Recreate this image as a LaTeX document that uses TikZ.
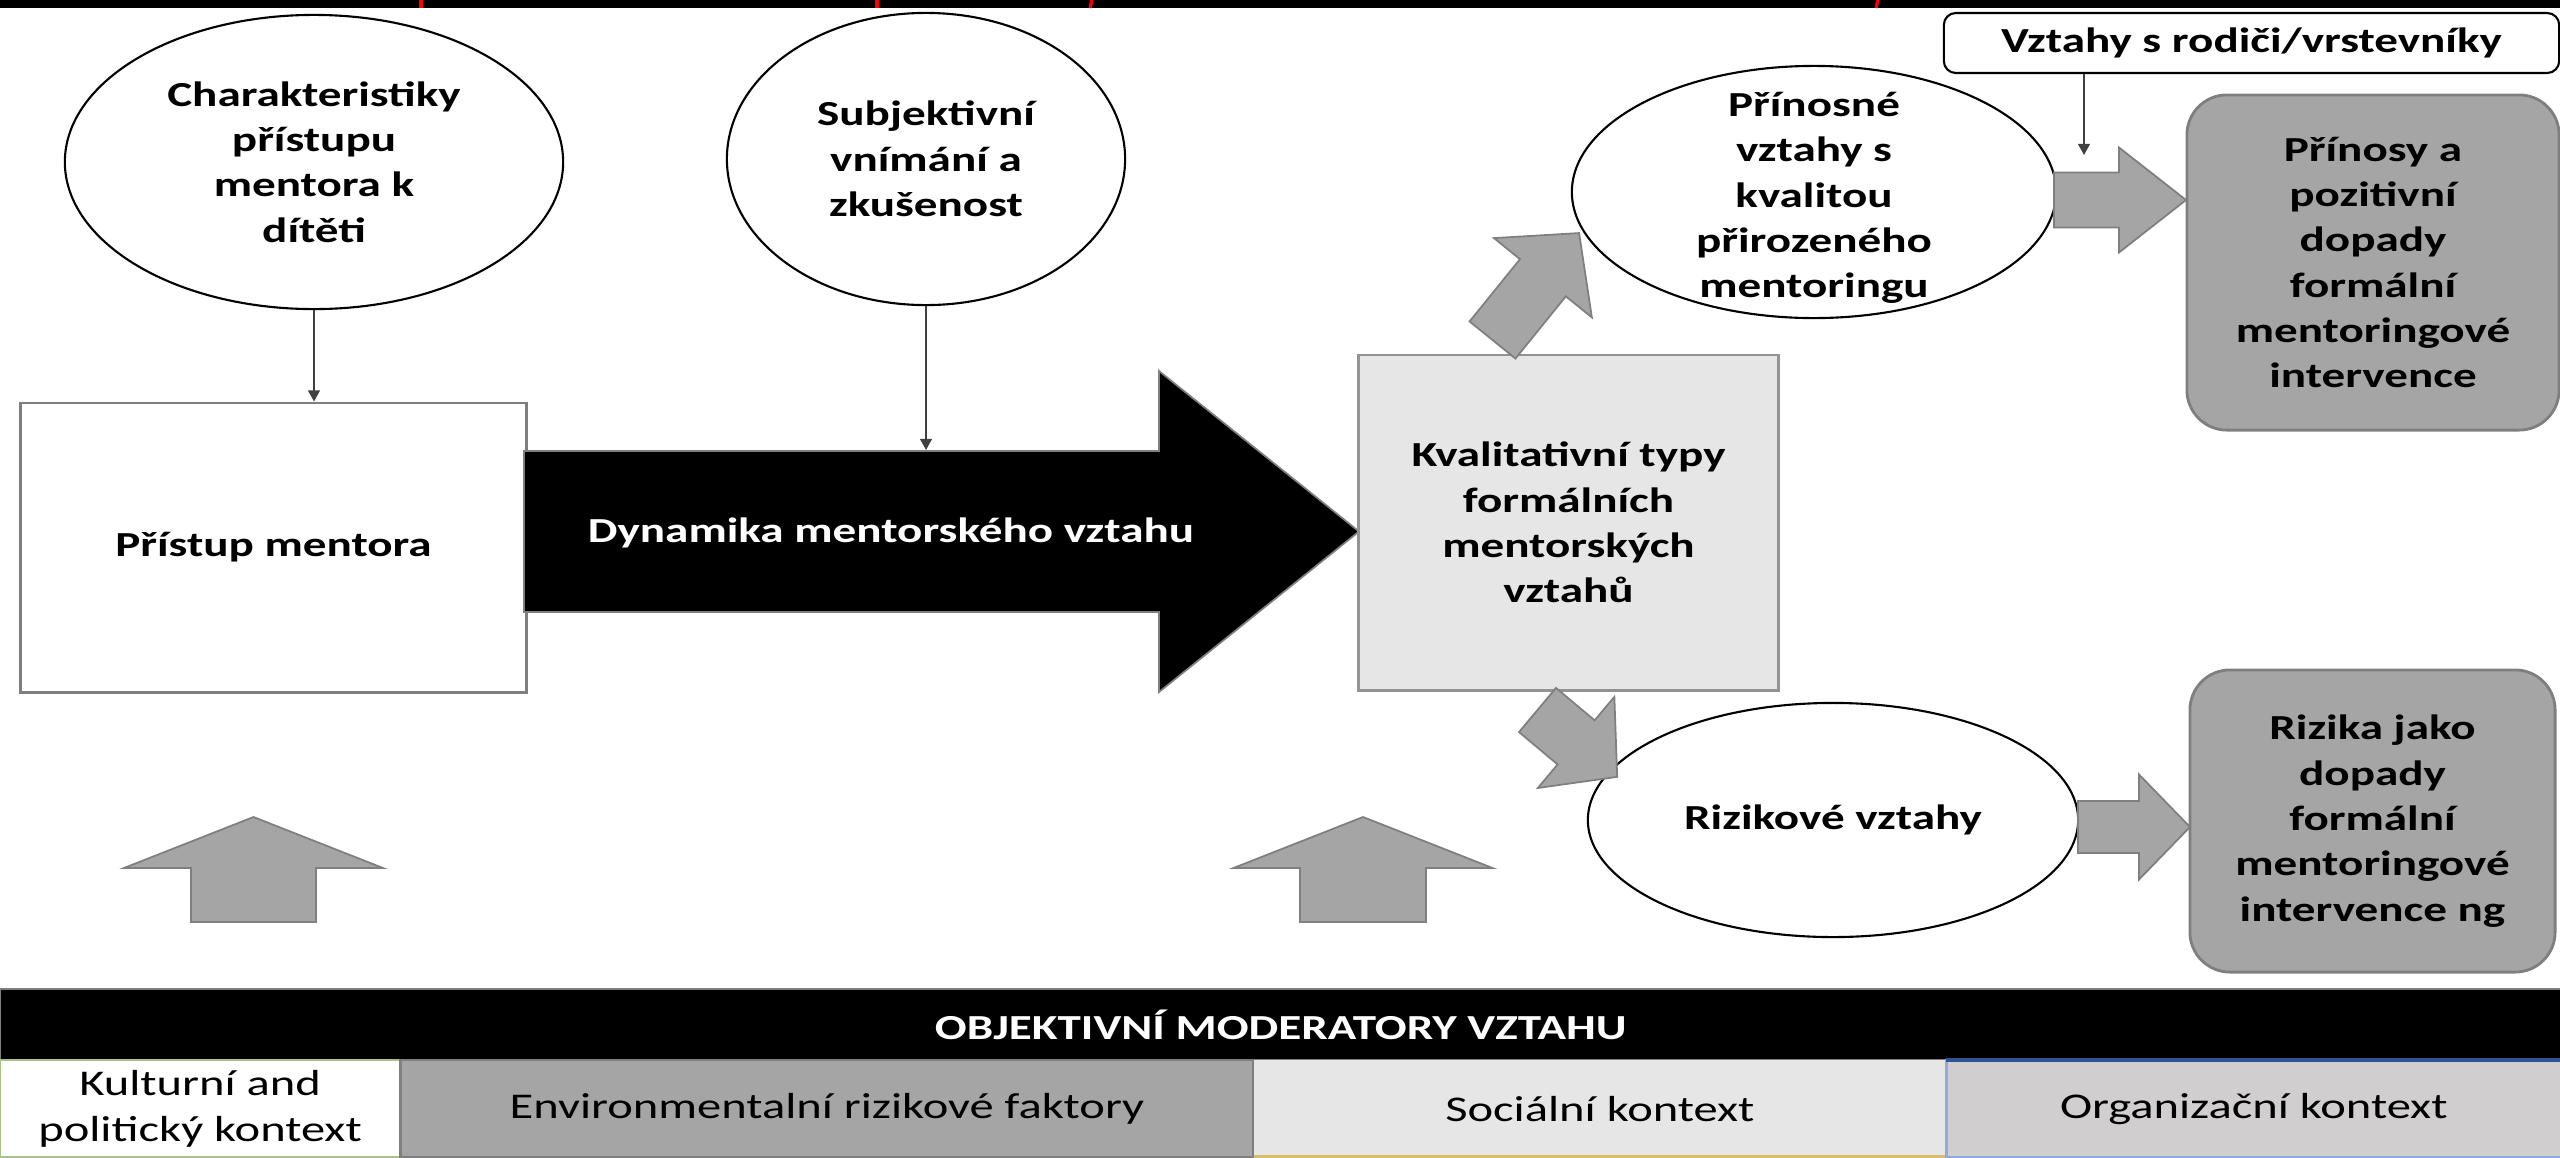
\documentclass[tikz,border=0pt]{standalone}
\usepackage{fontspec}
\setmainfont{Carlito}[FakeStretch=1.34]
\usetikzlibrary{arrows.meta, shapes.geometric, calc}

\definecolor{arrowgray}{HTML}{A5A5A5}
\definecolor{edgegray}{HTML}{7F7F7F}
\definecolor{boxgray}{HTML}{E6E6E6}
\definecolor{cellgreen}{HTML}{A9C48A}
\definecolor{cellgold}{HTML}{D9BC6E}
\definecolor{cellblue}{HTML}{2F5597}
\definecolor{cellbluelight}{HTML}{8FAADC}
\definecolor{cellrose}{HTML}{D0CECE}
\definecolor{markred}{HTML}{FF0000}

% block arrow: [style]{tail}{angle}{length}{shaft half}{head half}{head length}
\newcommand{\blockarrow}[7][gray_arrow]{%
  \begin{scope}[shift={#2}, rotate=#3]
    \filldraw[#1] (0,-#5) -- ({#4-#7},-#5) -- ({#4-#7},-#6) -- (#4,0)
      -- ({#4-#7},#6) -- ({#4-#7},#5) -- (0,#5) -- cycle;
  \end{scope}}

\begin{document}
\begin{tikzpicture}[x=0.01cm, y=-0.01cm, font=\fontsize{10}{12.9}\selectfont\bfseries]
    \tikzset{
        oval/.style={ellipse, draw=black, line width=0.6pt, fill=white, align=center, inner sep=0pt},
        plain_box/.style={rectangle, draw=edgegray, line width=0.8pt, align=center, inner sep=0pt},
        out_box/.style={rectangle, rounded corners=0.4cm, draw=edgegray, line width=0.8pt, fill=arrowgray, align=center, inner sep=0pt},
        thin_arrow/.style={draw=black!75, line width=0.5pt, -{Triangle[length=3.2pt, width=3.4pt]}},
        gray_arrow/.style={fill=arrowgray, draw=edgegray, line width=0.5pt},
        dyn_arrow/.style={fill=black, draw=edgegray, line width=0.5pt},
        cell/.style={rectangle, anchor=north west, minimum height=0.97cm, inner sep=0pt, outer sep=0pt, align=center, font=\fontsize{10.3}{13.2}\selectfont\mdseries}
    }
    \useasboundingbox (0,0) rectangle (2560,1157);

    % cut strip at the top
    \fill[black] (0,0) rectangle (2560,8);
    \foreach \x/\s in {421/0, 877/0, 1092/1, 1878/1}
        \draw[markred, line width=0.9pt] (\x,0) -- ++(-\s*2, 8);

    % mentor side
    \node[oval, minimum width=4.98cm, minimum height=2.94cm] (mentor_char) at (314,162) {Charakteristiky\\přístupu\\mentora k\\dítěti};
    \node[oval, minimum width=3.98cm, minimum height=2.92cm] (subj_view) at (926,159) {Subjektivní\\vnímání a\\zkušenost};
    \node[plain_box, fill=white, minimum width=5.05cm, minimum height=2.89cm] (mentor_appr) at (273.5,547.5) {Přístup mentora};

    \coordinate (dyn_tail) at (524,531.5);
    \coordinate (dyn_in) at (926,450);
    \blockarrow[dyn_arrow]{(dyn_tail)}{0}{835}{80.5}{160.5}{200}
    \node[text=white] (dyn_text) at (891,533) {Dynamika mentorského vztahu};

    \node[plain_box, fill=boxgray, draw=gray!85, minimum width=4.19cm, minimum height=3.35cm] (qual_types) at (1568.5,522.5) {Kvalitativní typy\\formálních\\mentorských\\vztahů};

    % outcomes
    \node[oval, minimum width=4.84cm, minimum height=2.52cm] (good_rel) at (1814,192) {};
    \node[align=center] (good_rel_text) at ($(good_rel.center)+(0,6)$) {Přínosné\\vztahy s\\kvalitou\\přirozeného\\mentoringu};
    \node[oval, minimum width=4.9cm, minimum height=2.34cm] (risk_rel) at (1833,820) {Rizikové vztahy};

    \node[rectangle, rounded corners=0.12cm, draw=black, line width=0.6pt, fill=white, minimum width=6.15cm, minimum height=0.6cm, inner sep=0pt] (peer_rel) at (2251.5,43) {Vztahy s rodiči/vrstevníky};
    \coordinate (peer_in) at (2084,155);

    \node[out_box, minimum width=3.72cm, minimum height=3.35cm] (benefits) at (2373,262.5) {Přínosy a\\pozitivní\\dopady\\formální\\mentoringové\\intervence};
    \node[out_box, minimum width=3.65cm, minimum height=3.02cm] (risks) at (2372.5,821) {Rizika jako\\dopady\\formální\\mentoringové\\intervence ng};

    % thin arrows
    \draw[thin_arrow] (mentor_char.south) -- (mentor_char.south |- mentor_appr.north);
    \draw[thin_arrow] (subj_view.south) -- (dyn_in);
    \draw[thin_arrow] (peer_rel.south -| peer_in) -- (peer_in);

    % gray block arrows
    \blockarrow{(1492.5,340)}{51}{137.6}{29.5}{63}{57.5}
    \blockarrow{(1537.5,710)}{-40}{104}{28.8}{59.5}{53.6}
    \blockarrow{(2054,200)}{0}{132}{27.5}{52.5}{67}
    \blockarrow{(2078,827)}{0}{112}{26}{52.5}{51}
    \blockarrow{(253.5,922)}{90}{105}{62.5}{129.5}{51}
    \blockarrow{(1363,922)}{90}{105}{63}{129.5}{51}

    % moderators
    \node[fill=black, draw=edgegray, line width=0.8pt, minimum width=25.6cm, minimum height=0.71cm, inner sep=0pt, outer sep=0pt, anchor=north west, text=white] (mod_head) at (0,989) {OBJEKTIVNÍ MODERATORY VZTAHU};
    \node[cell, fill=white, draw=cellgreen, line width=0.8pt, minimum width=4cm] (cult_ctx) at (mod_head.south west) {Kulturní and\\politický kontext};
    \node[cell, fill=arrowgray, draw=edgegray, line width=0.8pt, minimum width=8.53cm] (env_ctx) at (cult_ctx.north east) {Environmentalní rizikové faktory};
    \node[cell, fill=boxgray, minimum width=6.92cm] (soc_ctx) at (env_ctx.north east) {Sociální kontext};
    \draw[cellgold, line width=1.2pt] (soc_ctx.south west) -- (soc_ctx.south east);
    \node[cell, fill=cellrose, draw=cellbluelight, line width=0.8pt, minimum width=6.15cm] (org_ctx) at (soc_ctx.north east) {Organizační kontext};
    \draw[cellblue, line width=1pt] (org_ctx.north west) -- (org_ctx.north east);

\end{tikzpicture}
\end{document}
